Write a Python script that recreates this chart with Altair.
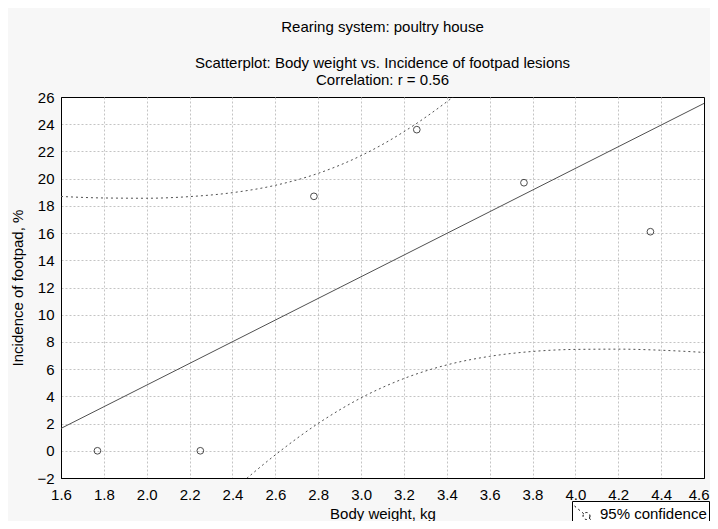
import altair as alt
import pandas as pd

# Observed points
body_weight = [1.77, 2.25, 2.78, 3.26, 3.76, 4.35]
incidence = [0.0, 0.0, 18.7, 23.6, 19.7, 16.1]

# 95% confidence band
band_x = [1.6, 1.8, 2.0, 2.2, 2.4, 2.6, 2.8, 3.0, 3.2, 3.4, 3.6, 3.8, 4.0, 4.2, 4.4, 4.6]
band_upper = [18.69, 18.58, 18.56, 18.68, 18.97, 19.51, 20.39, 21.69, 23.45, 25.65, 28.2, 31.0, 34.05, 37.2, 40.5, 43.8]
band_lower = [-15.39, -12.1, -8.90, -5.83, -2.94, -0.30, 2.01, 3.89, 5.31, 6.31, 6.94, 7.30, 7.45, 7.47, 7.39, 7.23]

x_ticks = [1.6, 1.8, 2.0, 2.2, 2.4, 2.6, 2.8, 3.0, 3.2, 3.4, 3.6, 3.8, 4.0, 4.2, 4.4, 4.6]
y_ticks = [-2, 0, 2, 4, 6, 8, 10, 12, 14, 16, 18, 20, 22, 24, 26]

FONT = "Liberation Sans"
FS = 15

pts = pd.DataFrame({"x": body_weight, "y": incidence})
band = pd.DataFrame({
    "x": band_x + band_x,
    "y": band_upper + band_lower,
    "side": ["upper"] * len(band_x) + ["lower"] * len(band_x),
    "label": ["95% confidence"] * (2 * len(band_x)),
})

xscale = alt.Scale(domain=[1.6, 4.6], nice=False, zero=False)
yscale = alt.Scale(domain=[-2, 26], nice=False, zero=False)

xaxis = alt.Axis(
    values=x_ticks, format=".1f", title="Body weight, kg",
    titlePadding=4, labelPadding=9, labelOverlap=False, labelFlush=False,
    labelAlign={"condition": {"test": "datum.value >= 4.59", "value": "right"}, "value": "center"},
    labelOffset={"condition": {"test": "datum.value >= 4.59", "value": 5}, "value": 0},
    gridOpacity={"condition": {"test": "datum.value <= 1.61 || datum.value >= 4.59", "value": 0}, "value": 1},
)
yaxis = alt.Axis(
    values=y_ticks, format="d", title="Incidence of footpad, %",
    titlePadding=11, labelPadding=7, labelOverlap=False, labelFlush=False,
    gridOpacity={"condition": {"test": "datum.value <= -1.9 || datum.value >= 25.9", "value": 0}, "value": 1},
)

X = alt.X("x:Q", scale=xscale, axis=xaxis)
Y = alt.Y("y:Q", scale=yscale, axis=yaxis)

points = alt.Chart(pts).mark_point(shape="circle", filled=False, color="black", size=45, strokeWidth=1, clip=True).encode(
    x=X, y=Y,
)

reg = alt.Chart(pts).transform_regression("x", "y", extent=[1.6, 4.6]).mark_line(
    color="#505050", strokeWidth=1, clip=True
).encode(
    x=X, y=Y,
)

conf = alt.Chart(band).mark_line(color="#505050", strokeWidth=1, interpolate="monotone", clip=True).encode(
    x=X,
    y=Y,
    detail="side:N",
    strokeDash=alt.StrokeDash(
        "label:N",
        scale=alt.Scale(domain=["95% confidence"], range=[[2, 3]]),
        legend=alt.Legend(
            title=None,
            orient="none",
            legendX=511,
            legendY=404,
            strokeColor="black",
            fillColor="white",
            padding=2,
            symbolType="M-1,-0.75L-0.07,0.03M0.47,0.47L0.8,0.75M0.55,0.25A0.35,0.35 0 1 1 -0.15,0.25A0.35,0.35 0 1 1 0.55,0.25",
            symbolStrokeColor="black",
            symbolFillColor="transparent",
            symbolStrokeWidth=1,
            symbolSize=400,
            labelFontSize=FS,
            labelFont=FONT,
            labelColor="black",
            labelOffset=5,
            cornerRadius=0,
        ),
    ),
)

chart = alt.layer(conf, reg, points).properties(
    width=643,
    height=381,
    background="#f7f7f7",
    autosize=alt.AutoSizeParams(type="none"),
    padding={"left": 53, "top": 89, "right": 6, "bottom": 43},
    title=alt.TitleParams(
        text="Rearing system: poultry house",
        subtitle=["Scatterplot: Body weight vs. Incidence of footpad lesions", "Correlation: r = 0.56"],
        font=FONT,
        fontSize=FS,
        fontWeight="normal",
        color="black",
        subtitleFont=FONT,
        subtitleFontSize=FS,
        subtitleColor="black",
        subtitlePadding=21,
        subtitleLineHeight=17,
        anchor="middle",
        frame="group",
        offset=2,
    ),
).configure_view(
    stroke="black", strokeWidth=1, fill="white"
).configure_axis(
    labelFont=FONT,
    labelFontSize=FS,
    labelColor="black",
    titleFont=FONT,
    titleFontSize=FS,
    titleFontWeight="normal",
    titleColor="black",
    grid=True,
    gridColor="#c4c4c4",
    gridDash=[2, 2],
    gridWidth=1,
    domainColor="black",
    ticks=False,
)

chart.save("out.html", embed_options={"renderer": "svg", "actions": False})
